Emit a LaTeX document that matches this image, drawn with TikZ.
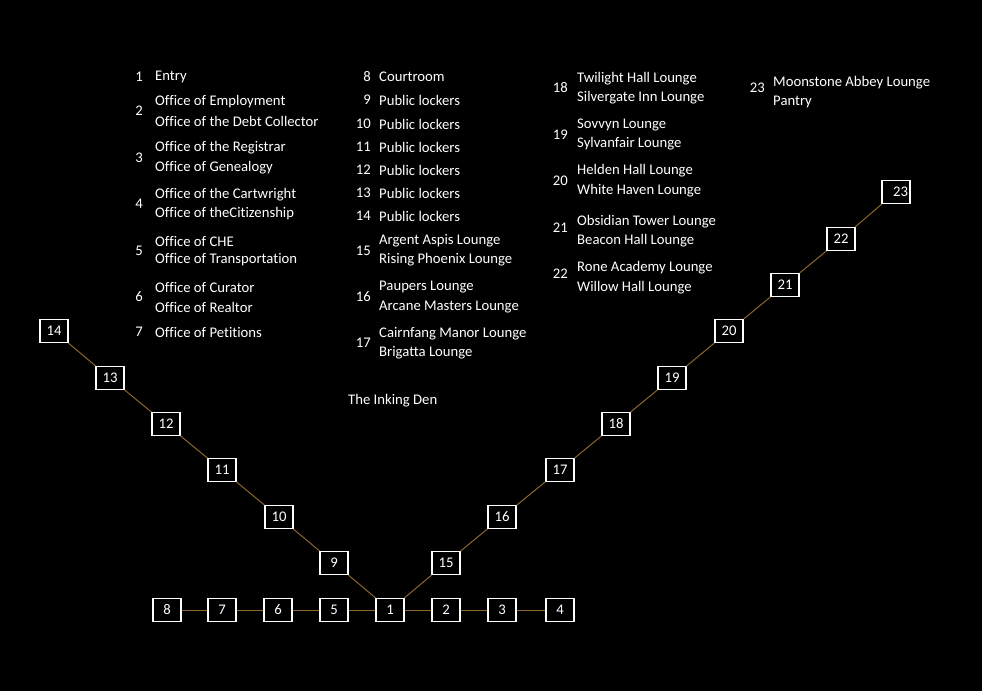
\documentclass[tikz,border=0pt]{standalone}
\usepackage{fontspec}
\setmainfont{Carlito}[Ligatures=NoCommon]
\definecolor{linkc}{RGB}{140,102,45}
\begin{document}
\begin{tikzpicture}[x=1pt,y=-1pt,
  room/.style={draw=white,line width=1.2pt,fill=black,text=white,minimum width=28pt,minimum height=23pt,inner sep=0pt,font=\fontsize{14.7}{14.7}\selectfont},
  link/.style={draw=linkc,line width=1pt},
  num/.style={anchor=east,inner sep=0pt,text=white,font=\fontsize{14.7}{14.7}\selectfont},
  lbl/.style={anchor=west,inner sep=0pt,text=white,font=\fontsize{14.7}{14.7}\selectfont}]
\fill[black] (0,0) rectangle (982,691);
\useasboundingbox (0,0) rectangle (982,691);
% boxes
\node[room] (b8) at (167,610) {8};
\node[room] (b7) at (222,610) {7};
\node[room] (b6) at (278,610) {6};
\node[room] (b5) at (334,610) {5};
\node[room] (b1) at (390,610) {1};
\node[room] (b2) at (446,610) {2};
\node[room] (b3) at (502,610) {3};
\node[room] (b4) at (560,610) {4};
\node[room] (b9) at (334,563) {9};
\node[room] (b10) at (279,517) {10};
\node[room] (b11) at (222,470) {11};
\node[room] (b12) at (166,424) {12};
\node[room] (b13) at (110,378) {13};
\node[room] (b14) at (54,331) {14};
\node[room] (b15) at (446,563) {15};
\node[room] (b16) at (502,517) {16};
\node[room] (b17) at (560,470) {17};
\node[room] (b18) at (616,424) {18};
\node[room] (b19) at (672,378) {19};
\node[room] (b20) at (729,331) {20};
\node[room] (b21) at (785,285) {21};
\node[room] (b22) at (841,239) {22};
\node[room] (b23) at (896,192) {\hspace*{9pt}23};
% links
\draw[link] (b8) -- (b7);
\draw[link] (b7) -- (b6);
\draw[link] (b6) -- (b5);
\draw[link] (b5) -- (b1);
\draw[link] (b1) -- (b2);
\draw[link] (b2) -- (b3);
\draw[link] (b3) -- (b4);
\draw[link] (b1) -- (b9);
\draw[link] (b9) -- (b10);
\draw[link] (b10) -- (b11);
\draw[link] (b11) -- (b12);
\draw[link] (b12) -- (b13);
\draw[link] (b13) -- (b14);
\draw[link] (b1) -- (b15);
\draw[link] (b15) -- (b16);
\draw[link] (b16) -- (b17);
\draw[link] (b17) -- (b18);
\draw[link] (b18) -- (b19);
\draw[link] (b19) -- (b20);
\draw[link] (b20) -- (b21);
\draw[link] (b21) -- (b22);
\draw[link] (b22) -- (b23);
% legend column 1
\node[num] (n1) at (143,77) {1};
\node[lbl] (t1) at (155,77) {Entry};
\node[num] (n2) at (143,111) {2};
\node[lbl] (t2a) at (155,102) {Office of Employment};
\node[lbl] (t2b) at (155,121) {Office of the Debt Collector};
\node[num] (n3) at (143,158) {3};
\node[lbl] (t3a) at (155,148) {Office of the Registrar};
\node[lbl] (t3b) at (155,168) {Office of Genealogy};
\node[num] (n4) at (143,204) {4};
\node[lbl] (t4a) at (155,195) {Office of the Cartwright};
\node[lbl] (t4b) at (155,214) {Office of theCitizenship};
\node[num] (n5) at (143,251) {5};
\node[lbl] (t5a) at (155,241) {Office of CHE};
\node[lbl] (t5b) at (155,260) {Office of Transportation};
\node[num] (n6) at (143,297) {6};
\node[lbl] (t6a) at (155,287) {Office of Curator};
\node[lbl] (t6b) at (155,307) {Office of Realtor};
\node[num] (n7) at (143,332) {7};
\node[lbl] (t7) at (155,332) {Office of Petitions};
% legend column 2
\node[num] (n8) at (371,77) {8};
\node[lbl] (t8) at (379,77) {Courtroom};
\node[num] (n9) at (371,100) {9};
\node[lbl] (t9) at (379,100) {Public lockers};
\node[num] (n10) at (371,124) {10};
\node[lbl] (t10) at (379,124) {Public lockers};
\node[num] (n11) at (371,147) {11};
\node[lbl] (t11) at (379,147) {Public lockers};
\node[num] (n12) at (371,170) {12};
\node[lbl] (t12) at (379,170) {Public lockers};
\node[num] (n13) at (371,193) {13};
\node[lbl] (t13) at (379,193) {Public lockers};
\node[num] (n14) at (371,216) {14};
\node[lbl] (t14) at (379,216) {Public lockers};
\node[num] (n15) at (371,251) {15};
\node[lbl] (t15a) at (379,241) {Argent Aspis Lounge};
\node[lbl] (t15b) at (379,260) {Rising Phoenix Lounge};
\node[num] (n16) at (371,297) {16};
\node[lbl] (t16a) at (379,287) {Paupers Lounge};
\node[lbl] (t16b) at (379,307) {Arcane Masters Lounge};
\node[num] (n17) at (371,343) {17};
\node[lbl] (t17a) at (379,334) {Cairnfang Manor Lounge};
\node[lbl] (t17b) at (379,353) {Brigatta Lounge};
\node[lbl] (den) at (348,401) {The Inking Den};
% legend column 3
\node[num] (n18) at (568,88) {18};
\node[lbl] (t18a) at (577,79) {Twilight Hall Lounge};
\node[lbl] (t18b) at (577,98) {Silvergate Inn Lounge};
\node[num] (n19) at (568,135) {19};
\node[lbl] (t19a) at (577,125) {Sovvyn Lounge};
\node[lbl] (t19b) at (577,144) {Sylvanfair Lounge};
\node[num] (n20) at (568,181) {20};
\node[lbl] (t20a) at (577,171) {Helden Hall Lounge};
\node[lbl] (t20b) at (577,191) {White Haven Lounge};
\node[num] (n21) at (568,228) {21};
\node[lbl] (t21a) at (577,222) {Obsidian Tower Lounge};
\node[lbl] (t21b) at (577,241) {Beacon Hall Lounge};
\node[num] (n22) at (568,274) {22};
\node[lbl] (t22a) at (577,268) {Rone Academy Lounge};
\node[lbl] (t22b) at (577,288) {Willow Hall Lounge};
% legend column 4
\node[num] (n23) at (765,88) {23};
\node[lbl] (t23a) at (773,83) {Moonstone Abbey Lounge};
\node[lbl] (t23b) at (773,102) {Pantry};
\end{tikzpicture}
\end{document}
